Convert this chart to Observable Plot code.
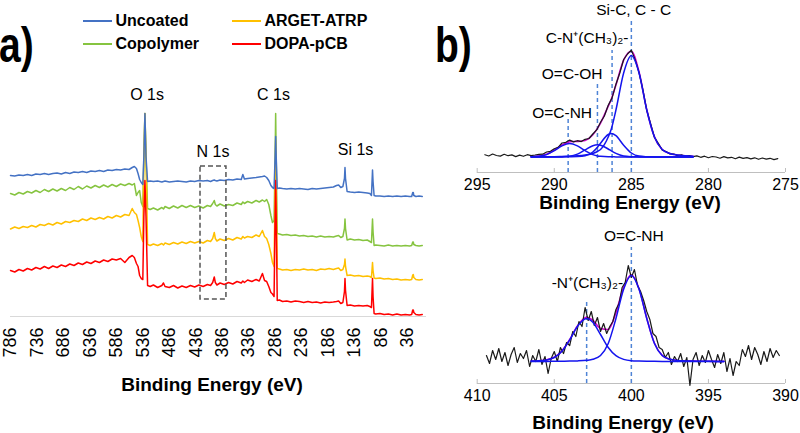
<!DOCTYPE html>
<html>
<head>
<meta charset="utf-8">
<script src="https://cdn.jsdelivr.net/npm/d3@7"></script>
<script src="https://cdn.jsdelivr.net/npm/@observablehq/plot@0.6"></script>
<style>
  html,body{margin:0;padding:0;background:#fff;}
  #fig{position:relative;width:800px;height:433px;overflow:hidden;font-family:"Liberation Sans",Arial,sans-serif;color:#000;}
  .abs{position:absolute;white-space:nowrap;}
  .ttl{font-weight:bold;font-size:19px;line-height:19px;text-align:center;}
  .panel{font-weight:bold;font-size:50px;line-height:50px;transform:scaleX(0.78);transform-origin:0 0;}
  .leg{font-weight:bold;font-size:16px;line-height:16px;}
  .sw{height:2px;width:29px;}
  svg{overflow:visible;}
</style>
</head>
<body>
<div id="fig"></div>
<script>
// ---------- Panel a: survey spectra (binding energy, eV; offset intensity, a.u.) ----------
const energySurvey = [786,778,770,762,754,746,738,730,722,714,706,698,690,682,674,666,658,650,642,634,626,618,610,602,594,586,578,570,562,
  556,552,548,545,542,539,536,534,532,530,527,522,
  516,508,500,497,494,486,478,470,462,454,446,438,430,422,414,408,404,401,399,396,390,382,374,366,358,350,347,344,338,330,322,316,
  310,306,302,298,294,291,288,286,285,284,282,278,272,264,256,248,240,232,224,216,208,200,192,184,176,170,166,162,158,155,154,153,150,144,136,128,120,112,107,104,102,101,99,96,88,80,72,64,56,48,40,32,28,26,25,24,20,14,8];
const uncoated = [141,140.5,141.5,141,142,141,142.5,142,143,142,143,143.5,142.5,144,143,144.5,144,145,144,145.5,145,146,145,146.5,146,147,146.5,147.5,147,
  149,150,148,143,137,134,132,160,203,160,135,135.5,
  135,135.5,134.5,135,135.5,134.5,135,135.5,135,134.5,135.5,135,136,135.5,136,135,136,136.5,136,135.5,136.5,136,137,136.5,137.5,137,142,137.5,138,138.5,139,139.5,
  140,140.5,139,136,131,129,128,160,180,160,128,128.5,128,127.5,128,127.5,128,127.5,127,128,127.5,128,128.5,129,129.5,131,131.5,129,130,138,
  149,138,125,124.5,124,124.5,124,123.5,123,121,146.5,135,121,120.5,120.5,120,120.5,120,120.5,120,120.5,120,120,124,124,121,120,120.5,120];
const copolymer = [123,121.5,124,122.5,125,123.5,126,124,127,125,127.5,125.5,128,126,129,127,130,127.5,130.5,128.5,131,129,131.5,129.5,132,130,132.5,131,133,
  131.5,133,121,124,126,114,110,160,203,160,108,107,
  108.5,106.5,109,107.5,110,108,110.5,108.5,111,109,111,109,110.5,108.5,111,110,113,116,112,110.5,112.5,110.5,112,111,113.5,112,114.5,113,115,113.5,116,114.5,
  116.5,115,117,112,101,94,96,160,203,160,83,82.5,81.5,82,81,81.5,80.5,81,80,80.5,79.5,80.5,79.5,80,79.5,80.5,81,79,80,88,
  97.5,88,76.5,77.5,76.5,77,76,76.5,75,74,97.5,85,71,71.5,71,70.5,71.5,70.5,71,70.5,71,70.5,71,74.5,74.5,72,71,70.5,71];
const argetAtrp = [87.5,89.5,88,90,89,91,89.5,92,91,93,91.5,94,92.5,95,94,96,95,97.5,96,98.5,97,99,97.5,100,98.5,101,99.5,102,101,
  108,104,102,96,89,80,75,160,203,160,72,71,
  72.5,71,73,71.5,73.5,72,74,72.5,74.5,73,75,73.5,75,73.5,76,75,78,84,78,75.5,77.5,76,78,76.5,79,77.5,80,78.5,80,79,81.5,80,
  86,80,78,72,63,54,50,130,176,130,48,47.5,46.5,47,46,47,46.5,47.5,46.5,47,46,47.5,47,48,47,48,48.5,46,47,52,
  57.5,50,41,41.5,40.5,41,40,40.5,40,39,54,46,38.5,38,38.5,37.5,38,37,37.5,36.5,37,36.5,37,41.5,42,39,37,36.5,37];
const dopaPcb = [46,44.5,47,45.5,48,46.5,49,47.5,50,48,50.5,49,51.5,50,52.5,51,53.5,52,54.5,53,55.5,54,56.5,55,57.5,56.5,58,54,59,
  61,59,53,50,41,38,37,100,136,100,31,30,
  31.5,29,31,33.5,30,29,31,28.5,30.5,29,31,29.5,31.5,30,32,31,34,39.5,34,31.5,33.5,32,34,32.5,35,33.5,35.5,34,36.5,35,37,35.5,
  43,36,35,30,24,22.5,20,100,136,100,16,16.5,15,15.5,14.5,15.5,15,14,15,14,14.5,13.5,14.5,14,14.5,15,15.5,13,14,25,
  38,26,11,11.5,10.5,11,10.5,11,10,9,38,20,3,2.5,3,2,2.5,1.5,2.5,1.5,2,1.5,2,6.5,6.5,4,2,1.5,2];
const surveyTicks = [786,736,686,636,586,536,486,436,386,336,286,236,186,136,86,36];
const surveyLabels = ["O 1s","C 1s","N 1s","Si 1s"];
const surveyLabelE = [528,289,403.4,134];
const surveyLabelI = [222,222,165,167];
const n1sWindowE = [427,378];
const n1sWindowI = [17,150];
const legendNames = ["Uncoated","ARGET-ATRP","Copolymer","DOPA-pCB"];

// ---------- Panel b (top): C 1s high resolution ----------
const c1sFitE = [291.5,291,290.5,290,289.5,289,288.5,288,287.5,287.2,287,286.5,286.3,286,285.5,285,284.5,284,283.5,283,282.5,282,281.5,281];
const c1sCC   = [15.7,15.7,15.8,15.8,16,16.3,16.7,17.5,19,21,23,35.5,43.5,62.5,99.5,117,99.5,62.5,35.5,23,19,17.5,16.7,16.3];
const c1sCN   = [15.5,15.5,15.5,15.5,15.6,15.7,15.9,16.7,20.5,25.3,29.3,38,39,36.8,27.3,19.5,16.4,15.8,15.6,15.5,15.5,15.5,15.5,15.5];
const c1sCOOH = [15.5,15.5,15.6,15.7,15.8,16.3,18.4,22.6,26.8,27.7,27.3,23.5,21.6,19.1,16.5,15.8,15.6,15.5,15.5,15.5,15.5,15.5,15.5,15.5];
const c1sCONH = [15.8,16.3,17.9,21.8,26.6,29,26.6,21.8,17.9,16.6,16.3,15.8,15.7,15.6,15.5,15.5,15.5,15.5,15.5,15.5,15.5,15.5,15.5,15.5];
const c1sEnvelope = [16.0,16.5,18.3,22.3,27.5,30.8,31.1,32.1,37.7,44.1,49.4,66.3,73.3,87.5,112.3,121.3,100.5,62.8,35.6,23,19,17.5,16.7,16.3];
const c1sDataE = [294.5,294.25,294,293.75,293.5,293.25,293,292.75,292.5,292.25,292,291.75,291.5,291.25,291,290.75,290.5,290.25,290,289.75,289.5,289.25,289,288.75,288.5,288.25,288,287.75,287.5,287.25,287,286.75,286.5,286.25,286,285.75,285.5,285.25,285,284.75,284.5,284.25,284,283.75,283.5,283.25,283,282.75,282.5,282.25,282,281.75,281.5,281.25,281,280.75,280.5,280.25,280,279.75,279.5,279.25,279,278.75,278.5,278.25,278,277.75,277.5,277.25,277,276.75,276.5,276.25,276,275.75,275.5];
const c1sData = [17.8,16.5,18.5,17,16.4,18.2,16.8,17.6,15.9,17.4,16.2,17.8,16.9,17.5,18.2,18.3,20.5,21.2,23.8,25.2,29.5,30.2,32.4,30.6,31.8,30.9,33.2,34,38.5,42.6,50.2,56.5,67.2,74.6,88.3,99.5,113,118.5,122.4,112.6,99.8,82.7,62.1,48.8,35,29.2,22.5,21,18.6,18.5,16.9,17.6,16.2,17,15.8,16.6,15.2,16.3,14.8,16,15.5,14.3,15.9,14.6,15.2,13.8,15.4,14.1,14.9,13.6,14.7,13.2,14.5,13.4,14.2,12.9,13.8];
const c1sTicks = [295,290,285,280,275];
const c1sPeakE = [289.1,287.2,286.25,285.0];
const c1sPeakTop = [55,89,122,154];
const c1sLabels = ["Si-C, C - C","C-N\u207A(CH\u2083)\u2082-","O=C-OH","O=C-NH"];
const c1sLabelE = [284.85,287.87,288.84,289.49];
const c1sLabelI = [162.5,134,98,59.5];

// ---------- Panel b (bottom): N 1s high resolution ----------
const n1sFitE = [406.5,406,405.5,405,404.5,404,403.5,402.9,402.5,402,401.5,401,400.5,400,399.5,399,398.5,398,397.5,397,396.5,396,395.5,395,394.5,394];
const n1sAmide = [22.1,22.1,22.1,22.2,22.3,22.4,22.6,23.2,24.2,28,40,65,94.3,108,94.3,65,40,28,24.2,23,22.6,22.4,22.3,22.2,22.1,22.1];
const n1sQuat  = [22.4,22.7,23.5,26,32.3,43.5,57,65,61.2,49,36,27.8,24.1,22.8,22.5,22.3,22.2,22.1,22,22,22,22,22,22,22,22];
const n1sEnvelope = [22.5,22.8,23.6,26.2,32.6,43.9,57.6,66.2,63.4,55,54,70.8,96.4,108.8,94.8,65.3,40.2,28.1,24.2,23,22.6,22.4,22.3,22.2,22.1,22.1];
const n1sDataE = [409.4,409.2,409,408.8,408.6,408.4,408.2,408,407.8,407.6,407.4,407.2,407,406.8,406.6,406.4,406.2,406,405.8,405.6,405.4,405.2,405,404.8,404.6,404.4,404.2,404,403.8,403.6,403.4,403.2,403,402.8,402.6,402.4,402.2,402,401.8,401.6,401.4,401.2,401,400.8,400.6,400.4,400.2,400,399.8,399.6,399.4,399.2,399,398.8,398.6,398.4,398.2,398,397.8,397.6,397.4,397.2,397,396.8,396.6,396.4,396.2,396,395.8,395.6,395.4,395.2,395,394.8,394.6,394.4,394.2,394,393.8,393.6,393.4,393.2,393,392.8,392.6,392.4,392.2,392,391.8,391.6,391.4,391.2,391,390.8,390.6,390.4];
const n1sData = [28,20,33,24,35,22,31,18,29,36,21,30,25,33,17,28,22,34,19,27,10,25,32,22,36,30,41,38,52,47,62,57,76,63,72,58,66,52,60,50,57,62,74,80,96,101,118,106,114,98,92,83,72,64,50,47,36,34,26,31,19,27,22,30,17,26,-2,24,31,18,28,21,33,24,16,29,20,31,12,25,8,22,18,34,27,38,24,36,29,19,32,22,35,26,33,28];
const n1sTicks = [410,405,400,395,390];
const n1sPeakE = [402.9,400.0];
const n1sPeakTop = [81,136];
const n1sLabels = ["-N\u207A(CH\u2083)\u2082-","O=C-NH"];
const n1sLabelE = [402.85,399.84];
const n1sLabelI = [100,147];

// ---------- styling ----------
const FONT = "'Liberation Sans', Arial, sans-serif";
const colors = {"Uncoated":"#4472c4","Copolymer":"#86c440","ARGET-ATRP":"#ffc000","DOPA-pCB":"#ff0000"};
const fitBlue = "#1414ee", envMagenta = "#d000d0", dataBlack = "#1a1a1a", refDash = "#4f84d6";
const rows = (E, V) => E.map((e, i) => ({e, v: V[i]}));

const fig = document.getElementById("fig");
function place(node, left, top, width) {
  const d = document.createElement("div");
  d.className = "abs";
  d.style.left = left + "px"; d.style.top = top + "px";
  if (width) d.style.width = width + "px";
  d.appendChild(node); fig.appendChild(d); return d;
}
function addText(txt, cls, left, top, width) {
  const d = document.createElement("div");
  d.className = "abs " + cls; d.textContent = txt;
  d.style.left = left + "px"; d.style.top = top + "px";
  if (width) d.style.width = width + "px";
  fig.appendChild(d); return d;
}

// ---------- Panel a ----------
const plotA = Plot.plot({
  width: 430, height: 433,
  marginLeft: 10, marginRight: 4, marginTop: 112, marginBottom: 117,
  style: {fontFamily: FONT, background: "transparent", overflow: "visible"},
  x: {domain: [786, 0]},
  y: {domain: [0, 204], axis: null},
  marks: [
    Plot.ruleY([0], {stroke: "#d9d9d9", strokeWidth: 1}),
    Plot.axisX({ticks: surveyTicks, tickSize: 0, tickPadding: 11, tickRotate: -90, fontSize: 18, tickFormat: d => String(d), label: null, fill: "#000"}),
    Plot.line(rows(energySurvey, copolymer), {x: "e", y: "v", stroke: colors["Copolymer"], strokeWidth: 1.5}),
    Plot.line(rows(energySurvey, argetAtrp), {x: "e", y: "v", stroke: colors["ARGET-ATRP"], strokeWidth: 1.5}),
    Plot.line(rows(energySurvey, dopaPcb), {x: "e", y: "v", stroke: colors["DOPA-pCB"], strokeWidth: 1.5}),
    Plot.line(rows(energySurvey, uncoated), {x: "e", y: "v", stroke: colors["Uncoated"], strokeWidth: 1.5}),
    Plot.rect([0], {x1: n1sWindowE[0], x2: n1sWindowE[1], y1: n1sWindowI[0], y2: n1sWindowI[1], fill: "none", stroke: "#555", strokeWidth: 1.5, strokeDasharray: "5,3"}),
    Plot.text(surveyLabels, {x: surveyLabelE, y: surveyLabelI, text: d => d, fontSize: 16, fill: "#000"})
  ]
});
place(plotA, 0, 0, 430);

// ---------- Panel b top ----------
const plotBT = Plot.plot({
  width: 370, height: 215,
  marginLeft: 46.7, marginRight: 15, marginTop: 12, marginBottom: 43,
  style: {fontFamily: FONT, background: "transparent", overflow: "visible"},
  x: {domain: [295, 275]},
  y: {domain: [0, 160], axis: null},
  marks: [
    Plot.ruleY([0], {stroke: "#bfbfbf", strokeWidth: 1}),
    Plot.axisX({ticks: c1sTicks, tickSize: -4, tickPadding: 10, fontSize: 16, label: null, stroke: "#bfbfbf", fill: "#000"}),
    Plot.ruleX(c1sPeakE, {x: d => d, y1: 0, y2: c1sPeakTop, stroke: refDash, strokeWidth: 1.5, strokeDasharray: "4,3"}),
    Plot.line(rows(c1sFitE, c1sEnvelope), {x: "e", y: "v", stroke: envMagenta, strokeWidth: 1.6, curve: "monotone-x"}),
    Plot.line(rows(c1sDataE, c1sData), {x: "e", y: "v", stroke: dataBlack, strokeWidth: 1.2}),
    Plot.line(rows(c1sFitE, c1sCC), {x: "e", y: "v", stroke: fitBlue, strokeWidth: 1.5, curve: "monotone-x"}),
    Plot.line(rows(c1sFitE, c1sCN), {x: "e", y: "v", stroke: fitBlue, strokeWidth: 1.5, curve: "monotone-x"}),
    Plot.line(rows(c1sFitE, c1sCOOH), {x: "e", y: "v", stroke: fitBlue, strokeWidth: 1.5, curve: "monotone-x"}),
    Plot.line(rows(c1sFitE, c1sCONH), {x: "e", y: "v", stroke: fitBlue, strokeWidth: 1.5, curve: "monotone-x"}),
    Plot.text(c1sLabels, {x: c1sLabelE, y: c1sLabelI, text: d => d, fontSize: 15.5, fill: "#000"})
  ]
});
place(plotBT, 430, 0, 370);

// ---------- Panel b bottom ----------
const plotBB = Plot.plot({
  width: 370, height: 218,
  marginLeft: 46.7, marginRight: 15, marginTop: 28, marginBottom: 50,
  style: {fontFamily: FONT, background: "transparent", overflow: "visible"},
  x: {domain: [410, 390]},
  y: {domain: [0, 140], axis: null},
  marks: [
    Plot.ruleY([0], {stroke: "#bfbfbf", strokeWidth: 1}),
    Plot.axisX({ticks: n1sTicks, tickSize: -4, tickPadding: 10, fontSize: 16, label: null, stroke: "#bfbfbf", fill: "#000"}),
    Plot.ruleX(n1sPeakE, {x: d => d, y1: 0, y2: n1sPeakTop, stroke: refDash, strokeWidth: 1.5, strokeDasharray: "4,3"}),
    Plot.line(rows(n1sFitE, n1sEnvelope), {x: "e", y: "v", stroke: envMagenta, strokeWidth: 1.6, curve: "monotone-x"}),
    Plot.line(rows(n1sDataE, n1sData), {x: "e", y: "v", stroke: dataBlack, strokeWidth: 1.2}),
    Plot.line(rows(n1sFitE, n1sAmide), {x: "e", y: "v", stroke: fitBlue, strokeWidth: 1.5, curve: "monotone-x"}),
    Plot.line(rows(n1sFitE, n1sQuat), {x: "e", y: "v", stroke: fitBlue, strokeWidth: 1.5, curve: "monotone-x"}),
    Plot.text(n1sLabels, {x: n1sLabelE, y: n1sLabelI, text: d => d, fontSize: 15.5, fill: "#000"})
  ]
});
place(plotBB, 430, 215, 370);

// ---------- titles, panel letters, legend ----------
addText("Binding Energy (eV)", "ttl", 212 - 130, 375, 260);
addText("Binding Energy (eV)", "ttl", 630 - 130, 193, 260);
addText("Binding Energy (eV)", "ttl", 623 - 130, 413, 260);
addText("a)", "panel", -1, 19.7);
addText("b)", "panel", 435, 19.7);

const legX = [83, 232], legY = [20.5, 43.5];
legendNames.forEach((name, i) => {
  const cx = legX[i % 2], cy = legY[Math.floor(i / 2)];
  const sw = document.createElement("div");
  sw.className = "abs sw";
  sw.style.left = cx + "px"; sw.style.top = (cy - 1) + "px";
  sw.style.background = colors[name];
  fig.appendChild(sw);
  addText(name, "leg", cx + 32.5, cy - 7.5);
});
</script>
</body>
</html>
